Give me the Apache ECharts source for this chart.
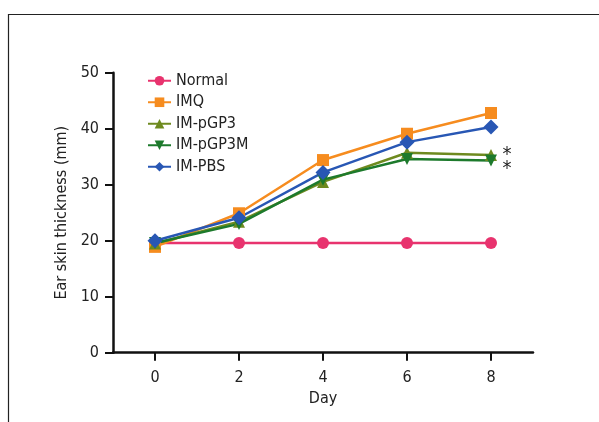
<!DOCTYPE html>
<html><head><meta charset="utf-8">
<script src="https://cdn.jsdelivr.net/npm/echarts@6/dist/echarts.min.js"></script>
<style>html,body{margin:0;padding:0;background:#fff}#c{width:599px;height:422px}</style>
</head><body><div id="c"></div>
<script>
var days = [0, 2, 4, 6, 8];
var xTicks = [0, 2, 4, 6, 8];
var normal = [19.6, 19.6, 19.6, 19.6, 19.6];
var imq = [18.9, 24.9, 34.4, 39.1, 42.8];
var pgp3 = [19.5, 23.4, 30.5, 35.7, 35.3];
var pgp3m = [19.6, 23.0, 30.9, 34.6, 34.3];
var pbs = [20.0, 24.1, 32.2, 37.6, 40.3];
var FONT = '"Liberation Sans Narrow","DejaVu Sans Condensed",sans-serif';

function pts(arr){ return days.map(function(d,i){ return [d, arr[i]]; }); }

var chart = echarts.init(document.getElementById('c'));
function mk(name, data, color, symbol, size, rot, star, starOffset){
  var s = {
    name: name, type: 'line', data: pts(data),
    symbol: symbol, symbolSize: size, symbolRotate: rot || 0,
    lineStyle: {color: color, width: 2.5},
    itemStyle: {color: color},
    z: 2
  };
  if (star) {
    s.markPoint = {
      symbol: 'circle', symbolSize: 1, itemStyle:{color:'rgba(0,0,0,0)'},
      label: {show: true, formatter: '*', color: '#222', fontSize: 20, fontFamily: FONT, offset: starOffset},
      data: [{coord: [8, data[4]]}]
    };
  }
  return s;
}
chart.setOption({
  animation: false,
  graphic: [{type:'polyline', shape:{points:[[8.5,430],[8.5,14.5],[605,14.5]]}, style:{stroke:'#222', lineWidth:1.2, fill:null}}],
  grid: {left: 113, right: 66, top: 72.7, bottom: 69.3},
  legend: {
    left: 142, top: 67, orient: 'vertical', itemWidth: 23, itemHeight: 12, itemGap: 4,
    textStyle: {fontSize: 16, fontFamily: FONT, color: '#222', lineHeight: 17.5},
    data: ['Normal','IMQ','IM-pGP3','IM-pGP3M','IM-PBS']
  },
  xAxis: {
    type: 'value', min: -1, max: 9,
    name: 'Day', nameLocation: 'middle', nameGap: 37,
    nameTextStyle: {fontSize: 16, fontFamily: FONT, color: '#222'},
    axisLine: {onZero: true, lineStyle: {color: '#111', width: 2.5}},
    axisTick: {show: true, length: 8, customValues: xTicks, lineStyle: {color:'#111', width: 2}},
    axisLabel: {customValues: xTicks, fontSize: 16, fontFamily: FONT, color: '#222', margin: 17},
    splitLine: {show: false}
  },
  yAxis: {
    type: 'value', min: 0, max: 50, interval: 10,
    name: 'Ear skin thickness (mm)', nameLocation: 'middle', nameGap: 43, nameRotate: 90,
    nameTextStyle: {fontSize: 16, fontFamily: FONT, color: '#222'},
    axisLine: {show: true, onZero: false, lineStyle: {color: '#111', width: 2.5}},
    axisTick: {show: true, length: 8, lineStyle: {color:'#111', width: 2}},
    axisLabel: {fontSize: 16, fontFamily: FONT, color: '#222', margin: 14},
    splitLine: {show: false}
  },
  series: [
    mk('Normal', normal, '#e8336e', 'circle', 12),
    mk('IMQ', imq, '#f68c1f', 'rect', 12),
    mk('IM-pGP3', pgp3, '#6e8a1f', 'triangle', 12, 0, true, [16, 0]),
    mk('IM-pGP3M', pgp3m, '#1d7a2c', 'triangle', 12, 180, true, [16, 8]),
    mk('IM-PBS', pbs, '#2857b4', 'diamond', 15)
  ]
});
</script></body></html>
